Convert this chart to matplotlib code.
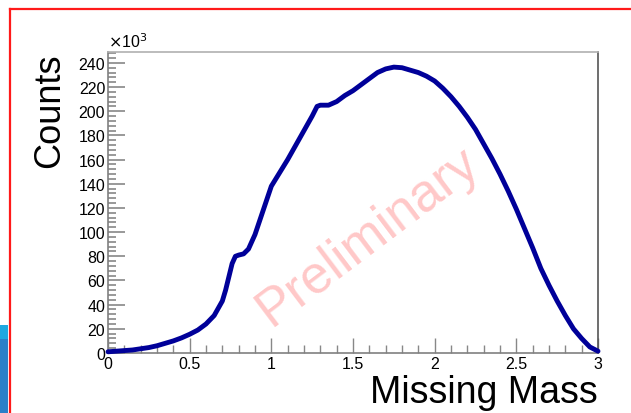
import matplotlib
matplotlib.use("Agg")
import matplotlib.pyplot as plt
from matplotlib.patches import Rectangle
from matplotlib.lines import Line2D

plt.rcParams['font.family'] = ['Liberation Sans', 'DejaVu Sans']

# Data (Missing Mass, Counts)
mass = [0.00, 0.05, 0.10, 0.15, 0.20, 0.25, 0.30, 0.35, 0.40, 0.45,
        0.50, 0.55, 0.60, 0.65, 0.70, 0.72, 0.74, 0.76, 0.78, 0.80,
        0.83, 0.86, 0.90, 0.95, 1.00, 1.05, 1.10, 1.15, 1.20, 1.25,
        1.28, 1.30, 1.35, 1.40, 1.45, 1.50, 1.55, 1.60, 1.65, 1.70,
        1.75, 1.80, 1.85, 1.90, 1.95, 2.00, 2.05, 2.10, 2.15, 2.20,
        2.25, 2.30, 2.35, 2.40, 2.45, 2.50, 2.55, 2.60, 2.65, 2.70,
        2.75, 2.80, 2.85, 2.90, 2.95, 3.00]
counts_k = [1.0, 1.5, 2.0, 2.5, 3.5, 4.5, 6.0, 8.0, 10.0, 12.5,
            15.5, 19.0, 24.0, 31.0, 43.0, 52.0, 63.0, 74.0, 80.0, 81.0,
            82.0, 86.0, 98.0, 118.0, 138.0, 149.0, 160.0, 172.0, 184.0, 196.0,
            204.0, 205.0, 205.0, 208.0, 213.0, 217.0, 222.0, 227.0, 232.0, 235.0,
            236.5, 236.0, 234.0, 232.0, 229.0, 225.0, 219.0, 212.0, 204.0, 195.0,
            185.0, 173.0, 161.0, 148.0, 134.0, 119.0, 103.0, 87.0, 70.0, 56.0,
            43.0, 31.0, 20.0, 12.0, 5.0, 1.5]
counts = [c * 1000 for c in counts_k]

x_ticks = [0, 0.5, 1, 1.5, 2, 2.5, 3]
x_tick_labels = ["0", "0.5", "1", "1.5", "2", "2.5", "3"]
y_ticks = [i * 20000 for i in range(13)]
y_tick_labels = [str(i * 20) for i in range(13)]

W, H = 631, 414
fig = plt.figure(figsize=(W / 100, H / 100), dpi=100)
fig.patch.set_facecolor('white')

# slide decorations: blue patch and red frame
fig.patches.append(Rectangle((0, 0), 8 / W, (414 - 340) / H, transform=fig.transFigure,
                             facecolor='#2a80c8', edgecolor='none', zorder=0))
fig.patches.append(Rectangle((0, (414 - 340) / H), 8 / W, 14 / H, transform=fig.transFigure,
                             facecolor='#1ea8e0', edgecolor='none', zorder=0))
fig.lines.append(Line2D([9.5 / W, 9.5 / W], [0, 1 - 9.5 / H], transform=fig.transFigure,
                        color='#ff1a1a', lw=1.6))
fig.lines.append(Line2D([9.5 / W, 1], [1 - 9.5 / H, 1 - 9.5 / H], transform=fig.transFigure,
                        color='#ff1a1a', lw=1.6))

left, right, bottom, top = 108 / W, 598 / W, 1 - 354 / H, 1 - 53 / H
ax = fig.add_axes([left, bottom, right - left, top - bottom])
ax.plot(mass, counts, color='#000099', lw=3.5, solid_joinstyle='round', solid_capstyle='round',
        clip_on=False, zorder=3)
ax.set_xlim(0, 3)
ax.set_ylim(0, 249000)

ax.set_xticks(x_ticks)
ax.set_xticklabels(x_tick_labels)
ax.set_xticks([i * 0.1 for i in range(31)], minor=True)
ax.set_yticks(y_ticks)
ax.set_yticklabels(y_tick_labels)
ax.set_yticks([i * 4000 for i in range(63)], minor=True)

ax.tick_params(axis='both', which='both', direction='in', color='#888888', labelsize=11.5,
               labelcolor='black')
ax.tick_params(axis='y', which='major', length=12, width=1.2, pad=2)
ax.tick_params(axis='y', which='minor', length=6, width=1.2)
ax.tick_params(axis='x', which='major', length=11, width=1.0, pad=2)
ax.tick_params(axis='x', which='minor', length=6, width=1.0)

for s in ['left', 'bottom']:
    ax.spines[s].set_color('#808080')
    ax.spines[s].set_linewidth(1.2)
ax.spines['top'].set_color('#b0b0b0')
ax.spines['top'].set_linewidth(1.2)
ax.spines['right'].set_color('#555555')
ax.spines['right'].set_linewidth(1.2)

fig.text(108 / W, 1 - 51 / H, r'$\times$10$^{3}$', ha='left', va='bottom', fontsize=11.5)

fig.text(50 / W, 1 - 54 / H, 'Counts', rotation=90, ha='center', va='top', fontsize=26)
fig.text(598 / W, 1 - 403 / H, 'Missing Mass', ha='right', va='baseline', fontsize=27)

ax.text(1.59, 97000, 'Preliminary', rotation=37, ha='center', va='center',
        fontsize=38, color='#ffc8c8', zorder=1, rotation_mode='anchor')

fig.savefig('out.png', dpi=100)
